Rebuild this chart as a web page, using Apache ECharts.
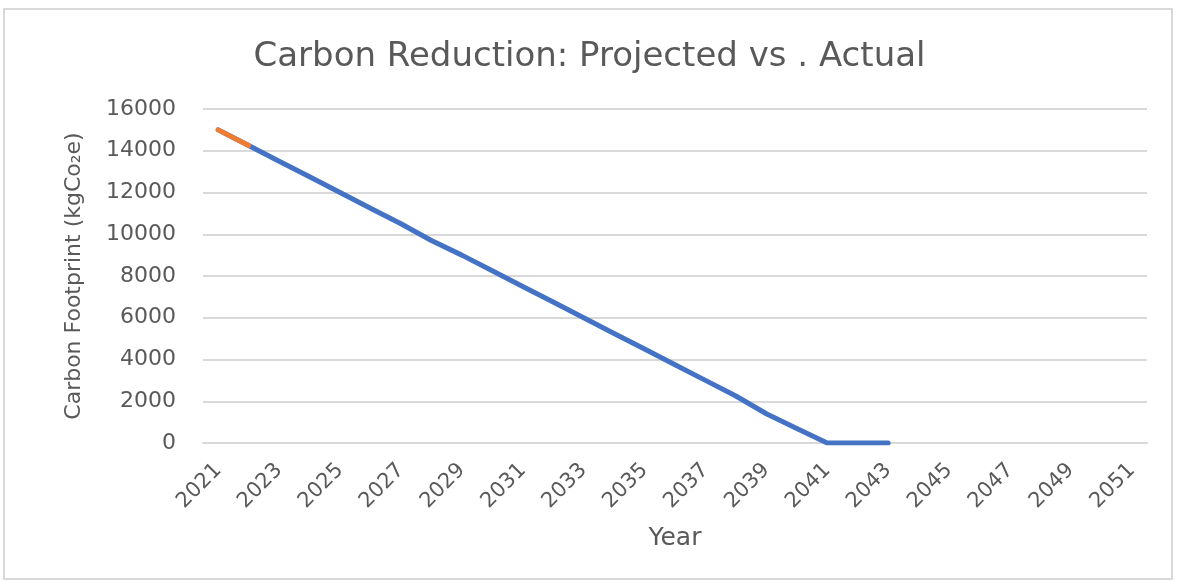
<!DOCTYPE html>
<html>
<head>
<meta charset="utf-8">
<script src="https://cdn.jsdelivr.net/npm/echarts@6/dist/echarts.min.js"></script>
<style>
  html, body { margin: 0; padding: 0; background: #fff; }
  #chart { width: 1179px; height: 581px; }
</style>
</head>
<body>
<div id="chart"></div>
<script>
// years on the category axis
var years = [];
for (var y = 2021; y <= 2051; y++) years.push(String(y));

// projected reduction (kgCO2e)
var projected = [15000, 14250, 13500, 12750, 12000, 11250, 10500, 9700, 9000, 8250,
    7500, 6750, 6000, 5250, 4500, 3750, 3000, 2250, 1400, 700, 0, 0, 0];
// actual measured so far
var actual = [15000, 14250];

var txtColor = '#595959';
var gridColor = '#d9d9d9';
var font = 'DejaVu Sans';

var chart = echarts.init(document.getElementById('chart'));

var option = {
    animation: false,
    backgroundColor: '#fff',
    title: {
        text: 'Carbon Reduction: Projected vs . Actual',
        left: 'center',
        top: 35,
        textStyle: {color: txtColor, fontFamily: font, fontSize: 34, fontWeight: 'normal'}
    },
    grid: {left: 203, right: 32, top: 109, bottom: 138},
    xAxis: {
        type: 'category',
        data: years,
        boundaryGap: true,
        name: 'Year',
        nameLocation: 'middle',
        nameGap: 83,
        nameTextStyle: {color: txtColor, fontFamily: font, fontSize: 25},
        axisLine: {lineStyle: {color: gridColor, width: 2}},
        axisTick: {show: false},
        axisLabel: {
            interval: 1,
            rotate: 45,
            color: txtColor,
            fontFamily: font,
            fontSize: 21,
            margin: 24
        }
    },
    yAxis: {
        type: 'value',
        min: 0,
        max: 16000,
        interval: 2000,
        name: 'Carbon Footprint (kgCo₂e)',
        nameLocation: 'middle',
        nameGap: 118,
        nameTextStyle: {color: txtColor, fontFamily: font, fontSize: 22},
        axisLine: {show: false},
        axisTick: {show: false},
        axisLabel: {
            color: txtColor,
            fontFamily: font,
            fontSize: 22,
            margin: 27,
            formatter: function (v) { return String(v); }
        },
        splitLine: {lineStyle: {color: gridColor, width: 2}}
    },
    series: [{
        name: 'Projected',
        type: 'line',
        data: projected,
        symbol: 'none',
        lineStyle: {color: '#4472C4', width: 5, cap: 'round', join: 'round'},
        z: 2
    }, {
        name: 'Actual',
        type: 'line',
        data: actual,
        symbol: 'none',
        lineStyle: {color: '#ED7D31', width: 5, cap: 'round'},
        z: 3
    }],
    graphic: [{
        type: 'rect',
        shape: {x: 4, y: 9, width: 1168, height: 570},
        style: {fill: null, stroke: gridColor, lineWidth: 2},
        silent: true
    }]
};

chart.setOption(option);
</script>
</body>
</html>
